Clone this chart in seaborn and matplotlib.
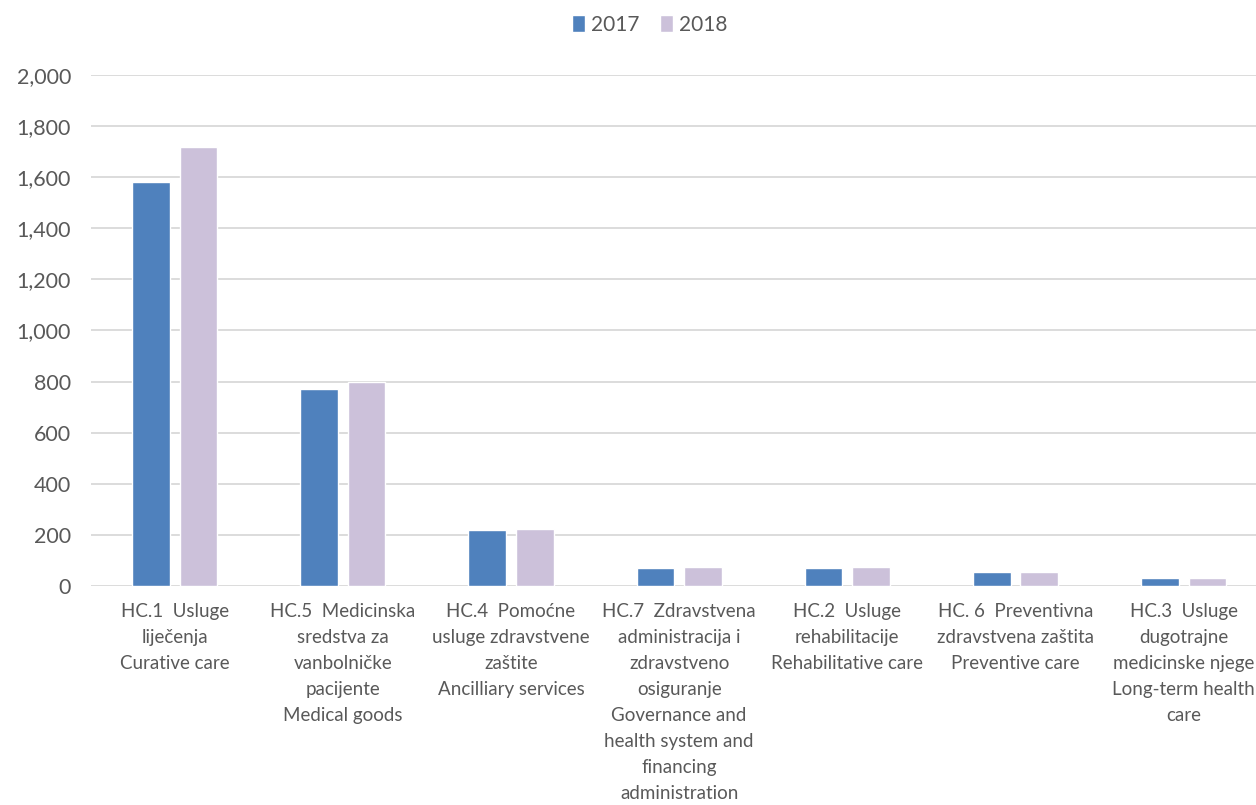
import matplotlib
matplotlib.use("Agg")
import matplotlib.pyplot as plt
import seaborn as sns
import pandas as pd
from matplotlib.ticker import FuncFormatter

categories = [
    "HC.1  Usluge\nliječenja\nCurative care",
    "HC.5  Medicinska\nsredstva za\nvanbolničke\npacijente\nMedical goods",
    "HC.4  Pomoćne\nusluge zdravstvene\nzaštite\nAncilliary services",
    "HC.7  Zdravstvena\nadministracija i\nzdravstveno\nosiguranje\nGovernance and\nhealth system and\nfinancing\nadministration",
    "HC.2  Usluge\nrehabilitacije\nRehabilitative care",
    "HC. 6  Preventivna\nzdravstvena zaštita\nPreventive care",
    "HC.3  Usluge\ndugotrajne\nmedicinske njege\nLong-term health\ncare",
]
values_2017 = [1581, 772, 219, 70, 70, 53, 31]
values_2018 = [1718, 797, 222, 74, 74, 55, 31]
years = ["2017", "2018"]
yticks = [0, 200, 400, 600, 800, 1000, 1200, 1400, 1600, 1800, 2000]

df = pd.DataFrame({
    "cat": categories * 2,
    "year": [years[0]] * len(categories) + [years[1]] * len(categories),
    "value": values_2017 + values_2018,
})

sns.set_style("white")
plt.rcParams["font.family"] = ["Lato", "DejaVu Sans"]
text_color = "#595959"

fig = plt.figure(figsize=(12.56, 8.05), dpi=100)
ax = fig.add_axes([90.5 / 1256, 1 - 586 / 805, (1256 - 90.5) / 1256, (586 - 75) / 805])

sns.barplot(data=df, x="cat", y="value", hue="year", order=categories,
            hue_order=years, palette=["#4F81BD", "#CCC1DA"], width=0.566,
            gap=0.21, ax=ax, legend=True, saturation=1)

ax.set_ylim(0, 2000)
ax.set_xlim(-0.5, 6.43)
ax.set_yticks(yticks)
ax.yaxis.set_major_formatter(FuncFormatter(lambda v, p: f"{int(v):,}"))
ax.grid(axis="y", color="#D9D9D9", linewidth=1.3)
ax.set_axisbelow(True)
for s in ax.spines.values():
    s.set_visible(False)
ax.set_xlabel("")
ax.set_ylabel("")
ax.tick_params(axis="y", length=0, pad=14, labelsize=15.5, labelcolor=text_color)
ax.tick_params(axis="x", length=0, pad=12, labelsize=13.5, labelcolor=text_color)
for lbl in ax.get_xticklabels():
    lbl.set_linespacing(1.65)
    lbl.set_ha("center")

leg = ax.legend(loc="upper center", bbox_to_anchor=(0.48, 1.155), ncol=2, frameon=False,
                fontsize=15, handlelength=0.6, handleheight=0.9, handletextpad=0.3,
                columnspacing=1.0, labelcolor=text_color)

fig.savefig("out.png", dpi=100)
